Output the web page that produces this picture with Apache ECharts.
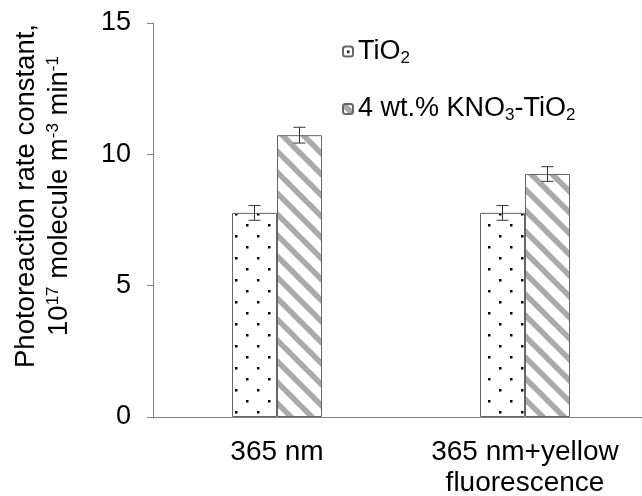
<!DOCTYPE html>
<html><head><meta charset="utf-8">
<script src="https://cdn.jsdelivr.net/npm/echarts@6/dist/echarts.min.js"></script>
<style>html,body{margin:0;padding:0;background:#fff}#c{width:642px;height:496px}</style>
</head><body><div id="c"></div>
<script>
const categories = ['365 nm', '365 nm+yellow\nfluorescence'];
const seriesNames = ['TiO2', 'KNO3-TiO2'];
const tio2Values = [7.77, 7.77];
const tio2Errors = [0.28, 0.28];
const kno3Values = [10.73, 9.25];
const kno3Errors = [0.30, 0.28];
const yTicks = [0, 5, 10, 15];

function dotPattern() {
  const c = document.createElement('canvas'); c.width = 22; c.height = 22;
  const g = c.getContext('2d');
  g.fillStyle = '#fff'; g.fillRect(0, 0, 22, 22);
  g.fillStyle = '#000';
  g.fillRect(4, 4, 2.5, 2.5); g.fillRect(15, 15, 2.5, 2.5);
  return c;
}
function stripePattern() {
  const n = 21;
  const c = document.createElement('canvas'); c.width = n; c.height = n;
  const g = c.getContext('2d');
  g.fillStyle = '#fff'; g.fillRect(0, 0, n, n);
  g.strokeStyle = '#aaaaaa'; g.lineWidth = 5.5;
  for (let k = -1; k <= 1; k++) {
    g.beginPath(); g.moveTo(-n, -n + k * n); g.lineTo(2 * n, 2 * n + k * n); g.stroke();
  }
  return c;
}

const BAR_W = 45;
const errData = [];
tio2Values.forEach((v, i) => errData.push([i, v - tio2Errors[i], v + tio2Errors[i], 0]));
kno3Values.forEach((v, i) => errData.push([i, v - kno3Errors[i], v + kno3Errors[i], 1]));

const chart = echarts.init(document.getElementById('c'), null, {renderer: 'canvas'});
const F = 'Liberation Sans, Arial, sans-serif';
chart.setOption({
  animation: false,
  grid: {left: 153, top: 23, width: 496, bottom: 79, containLabel: false, outerBoundsMode: 'none'},
  legend: {
    orient: 'vertical', left: 337, top: 33, itemWidth: 10, itemHeight: 10, itemGap: 29,
    data: seriesNames,
    formatter: function (name) {
      return name === 'TiO2' ? '{a|TiO}{s|2}' : '{a|4 wt.% KNO}{s|3}{a|-TiO}{s|2}';
    },
    textStyle: {
      padding: [0, 0, 0, 0],
      rich: {
        a: {fontFamily: F, fontSize: 27, color: '#000', lineHeight: 30, verticalAlign: 'middle'},
        s: {fontFamily: F, fontSize: 17, color: '#000', lineHeight: 30, verticalAlign: 'bottom'}
      }
    }
  },
  xAxis: {
    type: 'category', data: categories,
    axisLine: {lineStyle: {color: '#808080', width: 1}},
    axisTick: {show: false},
    axisLabel: {fontFamily: F, fontSize: 28, color: '#000', margin: 20, lineHeight: 31}
  },
  yAxis: {
    type: 'value', min: 0, max: 15, interval: 5,
    axisLine: {show: true, lineStyle: {color: '#808080', width: 1}},
    axisTick: {show: true, inside: false, length: 6, lineStyle: {color: '#808080'}},
    splitLine: {show: false},
    axisLabel: {fontFamily: F, fontSize: 27, color: '#000', margin: 22,
      formatter: v => yTicks.indexOf(v) >= 0 ? String(v) : ''},
    name: '{a|Photoreaction rate constant,}\n{a|10}{p|17}{a| molecule m}{p|-3}{a| min}{p|-1}',
    nameLocation: 'middle', nameRotate: 90, nameGap: 77,
    nameTextStyle: {
      padding: [0, 0, 0, 48],
      rich: {
        a: {fontFamily: F, fontSize: 27.5, color: '#000', lineHeight: 33, verticalAlign: 'middle'},
        p: {fontFamily: F, fontSize: 17, color: '#000', lineHeight: 33, verticalAlign: 'top', padding: [2, 0, 0, 0]}
      }
    }
  },
  series: [
    {name: 'TiO2', type: 'bar', data: tio2Values, barWidth: BAR_W, barGap: '0%',
      itemStyle: {color: {image: dotPattern(), repeat: 'repeat'}, borderColor: '#666', borderWidth: 1}},
    {name: 'KNO3-TiO2', type: 'bar', data: kno3Values, barWidth: BAR_W, barGap: '0%',
      itemStyle: {color: {image: stripePattern(), repeat: 'repeat'}, borderColor: '#666', borderWidth: 1}},
    {type: 'custom', data: errData, z: 10, silent: true,
      renderItem: function (params, api) {
        const cat = api.value(0);
        const lo = api.coord([cat, api.value(1)]);
        const hi = api.coord([cat, api.value(2)]);
        const x = lo[0] + (api.value(3) === 0 ? -1 : 1) * BAR_W / 2;
        const cap = 6;
        const st = {stroke: '#333', lineWidth: 1};
        return {type: 'group', children: [
          {type: 'line', shape: {x1: x, y1: lo[1], x2: x, y2: hi[1]}, style: st},
          {type: 'line', shape: {x1: x - cap, y1: lo[1], x2: x + cap, y2: lo[1]}, style: st},
          {type: 'line', shape: {x1: x - cap, y1: hi[1], x2: x + cap, y2: hi[1]}, style: st}
        ]};
      }
    }
  ]
});
</script></body></html>
